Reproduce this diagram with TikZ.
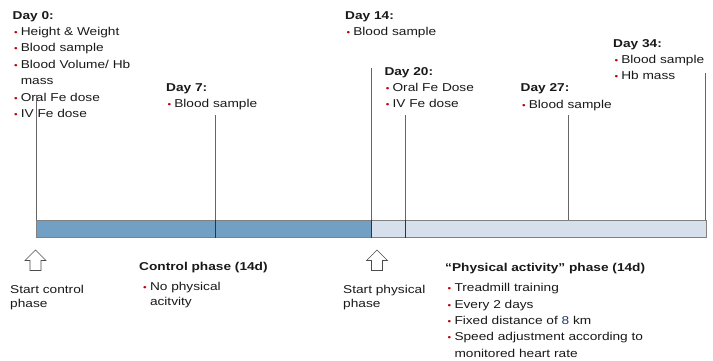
\documentclass[tikz,border=0pt]{standalone}
\usepackage{fontspec}
\setmainfont{Liberation Sans}[FakeStretch=1.2]
\usetikzlibrary{shapes.arrows}

\definecolor{ctrlblue}{RGB}{114,160,197}
\definecolor{physblue}{RGB}{213,224,236}
\definecolor{bulletred}{RGB}{192,0,0}
\definecolor{txt}{RGB}{25,25,25}
\definecolor{numblue}{RGB}{31,56,100}

\newcommand{\bul}{\hspace*{1.3pt}\makebox[6.8pt][l]{\textcolor{bulletred}{\scalebox{0.75}{•}}}}
\newcommand{\cont}{\hspace*{8.1pt}}

\begin{document}
\begin{tikzpicture}[x=1pt,y=-1pt,
  lbl/.style={anchor=north west,inner sep=0pt,align=left,text=txt,
              font=\fontsize{11.4}{16.4}\selectfont},
  tight/.style={lbl,font=\fontsize{11.4}{14.5}\selectfont},
  tick/.style={draw=black!60,line width=0.9pt},
  divider/.style={draw=black!80,line width=0.8pt},
  barpart/.style={draw=black!50,line width=1pt},
  startarrow/.style={single arrow,draw=black!70,fill=white,line width=0.6pt,
                     shape border rotate=90,minimum height=20.5pt,
                     single arrow head extend=5pt,inner sep=5.2pt},
]
  \useasboundingbox (0,0) rectangle (713,361);

  % Timeline bar
  \draw[barpart,fill=ctrlblue] (36.5,220) rectangle (371,237.5);
  \draw[barpart,fill=physblue] (371,220) rectangle (706,237.5);

  % Measurement days
  \node[lbl] (day0) at (12.5,11) {\textbf{Day 0:}\\\bul Height \& Weight\\
    \bul Blood sample\\\bul Blood Volume/ Hb\\\cont mass\\\bul Oral Fe dose\\
    \bul IV Fe dose};
  \node[lbl] (day7) at (166,83.5) {\textbf{Day 7:}\\\bul Blood sample};
  \node[lbl] (day14) at (345,11) {\textbf{Day 14:}\\\bul Blood sample};
  \node[lbl] (day20) at (384.3,67) {\textbf{Day 20:}\\\bul Oral Fe Dose\\
    \bul IV Fe dose};
  \node[lbl] (day27) at (520.5,83.5) {\textbf{Day 27:}\\\bul Blood sample};
  \node[lbl] (day34) at (613,39) {\textbf{Day 34:}\\\bul Blood sample\\
    \bul Hb mass};

  % Ticks down to the bar
  \foreach \nm/\x/\top/\bot in {d0/36.5/95/220, d7/215/115/220,
      d14/371/68/220, d20/405/115/220, d27/568/115/220, d34/705/73/220}{
    \coordinate (\nm top) at (\x,\top);
    \coordinate (\nm bar) at (\x,\bot);
    \draw[tick] (\nm top) -- (\nm bar);
  }
  \foreach \nm in {d7,d14,d20}
    \draw[divider] (\nm bar) -- ++(0,17.5);

  % Phase starts
  \node[startarrow] (startctrl) at (35.5,263) {};
  \node[startarrow] (startphys) at (377,263) {};
  \node[tight] (startctrltxt) at (10,284.8) {Start control\\phase};
  \node[tight] (startphystxt) at (343,284.8) {Start physical\\phase};

  % Phases
  \node[lbl,font=\fontsize{11.4}{16.4}\selectfont\bfseries] (ctrlhead)
    at (139,262.5) {Control phase (14d)};
  \node[tight] (ctrllist) at (141.7,282.3) {\bul No physical\\\cont acitvity};
  \node[lbl,font=\fontsize{11.4}{16.4}\selectfont\bfseries] (physhead)
    at (445,263.5) {“Physical activity” phase (14d)};
  \node[lbl] (physlist) at (446.2,283.3) {\bul Treadmill training\\
    \bul Every 2 days\\\bul Fixed distance of \textcolor{numblue}{8} km\\
    \bul Speed adjustment according to\\\cont monitored heart rate};
\end{tikzpicture}
\end{document}
